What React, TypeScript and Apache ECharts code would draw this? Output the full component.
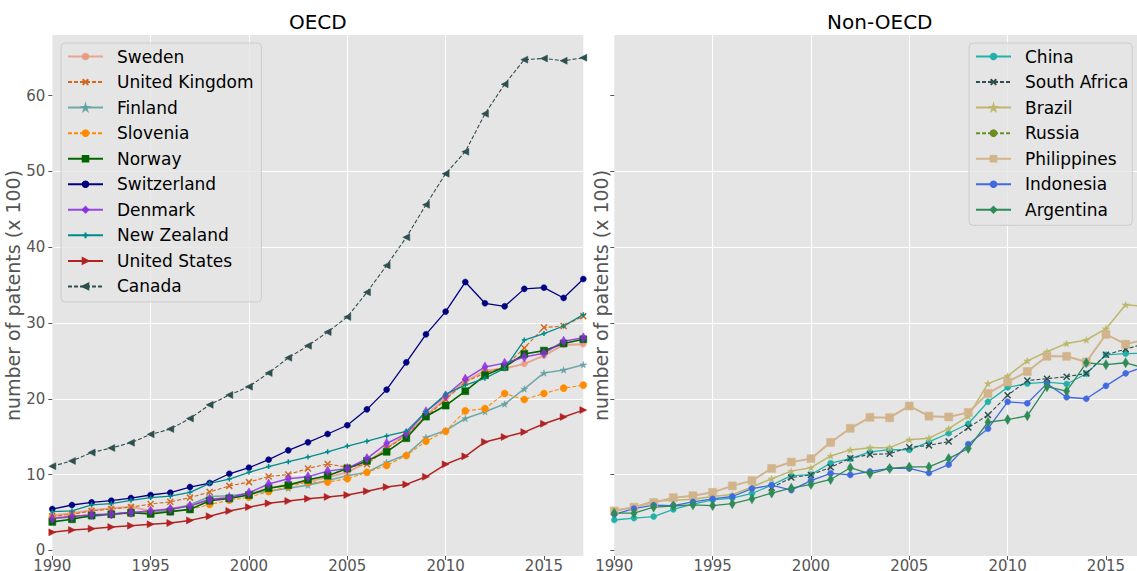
import React, { useEffect, useRef } from 'react';
import * as echarts from 'echarts';

// Years on the horizontal axis
const years = [
  1990, 1991, 1992, 1993, 1994, 1995, 1996, 1997, 1998, 1999,
  2000, 2001, 2002, 2003, 2004, 2005, 2006, 2007, 2008, 2009,
  2010, 2011, 2012, 2013, 2014, 2015, 2016, 2017,
];

const xTickValues = [1990, 1995, 2000, 2005, 2010, 2015];
const yTickValues = [0, 10, 20, 30, 40, 50, 60];

// OECD countries, number of patents (x 100)
const sweden = [4.6, 4.9, 5.3, 5.55, 5.75, 5.2, 5.5, 5.9, 6.7, 7.0, 7.4, 8.2, 8.7, 9.1, 9.6, 10.3, 11.6, 13.5, 15.3, 17.8, 20.1, 22.3, 23.7, 24.0, 24.6, 25.7, 27.1, 27.2];
const unitedKingdom = [4.5, 4.75, 5.2, 5.45, 5.7, 6.1, 6.4, 6.95, 7.7, 8.5, 9.0, 9.75, 10.0, 10.8, 11.4, 10.95, 11.35, 13.4, 15.2, 17.6, 19.9, 22.2, 23.4, 24.2, 26.7, 29.4, 29.6, 30.9];
const finland = [4.3, 4.35, 4.45, 4.8, 5.0, 5.0, 5.3, 6.0, 7.1, 7.2, 7.5, 7.8, 8.2, 8.6, 9.2, 9.85, 10.3, 11.6, 12.6, 14.9, 15.8, 17.4, 18.3, 19.3, 21.3, 23.4, 23.8, 24.5];
const slovenia = [4.3, 4.5, 4.7, 4.75, 4.85, 4.88, 5.1, 5.4, 6.05, 6.6, 7.0, 7.75, 8.4, 9.0, 9.0, 9.45, 10.3, 11.2, 12.5, 14.4, 15.7, 18.4, 18.7, 20.7, 19.9, 20.7, 21.4, 21.8];
const norway = [3.75, 4.1, 4.6, 4.75, 4.95, 4.8, 5.1, 5.4, 6.55, 6.85, 7.3, 8.2, 8.6, 9.3, 9.85, 10.8, 11.8, 13.0, 14.8, 17.65, 19.1, 21.0, 23.1, 24.2, 25.9, 26.35, 27.3, 27.85];
const switzerland = [5.45, 5.98, 6.33, 6.55, 6.9, 7.3, 7.6, 8.35, 8.88, 10.1, 10.9, 11.96, 13.2, 14.25, 15.35, 16.5, 18.6, 21.2, 24.8, 28.5, 31.5, 35.4, 32.6, 32.2, 34.5, 34.66, 33.3, 35.8];
const denmark = [4.2, 4.45, 4.7, 4.8, 5.0, 5.2, 5.45, 5.85, 6.7, 6.95, 7.6, 8.75, 9.45, 9.7, 10.45, 10.8, 12.1, 14.1, 15.4, 18.3, 20.4, 22.6, 24.2, 24.7, 25.5, 26.0, 27.6, 28.05];
const newZealand = [5.1, 5.2, 6.0, 6.15, 6.6, 6.95, 7.15, 7.65, 8.84, 9.4, 10.3, 11.05, 11.7, 12.3, 13.0, 13.76, 14.4, 15.1, 15.7, 18.3, 20.6, 21.8, 22.7, 24.0, 27.75, 28.6, 29.6, 31.1];
const unitedStates = [2.37, 2.68, 2.85, 3.07, 3.25, 3.43, 3.6, 3.95, 4.5, 5.2, 5.7, 6.2, 6.5, 6.8, 7.05, 7.3, 7.8, 8.35, 8.7, 9.7, 11.35, 12.4, 14.3, 14.95, 15.6, 16.7, 17.6, 18.5];
const canada = [11.1, 11.8, 12.9, 13.5, 14.2, 15.3, 16.0, 17.4, 19.2, 20.5, 21.6, 23.4, 25.4, 27.0, 28.8, 30.8, 34.05, 37.6, 41.3, 45.6, 49.7, 52.6, 57.6, 61.5, 64.75, 64.9, 64.6, 65.0];

// Non-OECD countries, number of patents (x 100)
const china = [4.0, 4.25, 4.45, 5.4, 6.1, 6.65, 6.9, 7.5, 8.6, 9.85, 10.0, 11.5, 12.1, 13.0, 13.3, 13.25, 14.3, 15.45, 16.7, 19.6, 21.5, 22.0, 22.2, 21.95, 23.3, 25.8, 25.95, 26.0];
const southAfrica = [null, null, null, null, null, null, null, null, 8.25, 9.6, 9.95, 10.95, 12.15, 12.65, 12.75, 13.6, 13.85, 14.35, 16.2, 17.85, 20.45, 22.4, 22.65, 22.9, 23.35, 25.8, 26.55, 27.3];
const brazil = [5.3, 5.7, 6.5, 6.6, 6.75, 7.1, 7.35, 8.35, 9.45, 10.45, 10.9, 12.45, 13.25, 13.55, 13.55, 14.6, 14.8, 16.05, 17.7, 22.0, 23.0, 25.0, 26.2, 27.3, 27.75, 29.25, 32.4, 32.2];
const russia: (number | null)[] = years.map(() => null);
const philippines = [5.2, 5.7, 6.3, 6.95, 7.2, 7.65, 8.5, 9.2, 10.8, 11.65, 12.1, 14.25, 16.1, 17.55, 17.5, 19.05, 17.7, 17.6, 18.2, 20.7, 22.2, 23.6, 25.6, 25.6, 24.85, 28.5, 27.2, 27.8];
const indonesia = [4.75, 5.5, 5.95, 5.9, 6.4, 6.8, 7.1, 8.15, 8.6, 7.95, 9.2, 10.15, 9.95, 10.4, 10.8, 10.8, 10.2, 11.3, 14.0, 16.05, 19.6, 19.4, 22.0, 20.2, 20.0, 21.7, 23.35, 24.3];
const argentina = [4.9, 4.9, 5.7, 5.85, 6.0, 5.9, 6.15, 6.8, 7.55, 8.2, 8.7, 9.35, 10.9, 10.1, 10.8, 11.0, 11.0, 12.1, 13.45, 16.9, 17.25, 17.75, 21.6, 21.0, 24.75, 24.5, 24.75, 24.0];

const FONT = 'DejaVu Sans';

const STAR = 'path://M50,0 L61,35 L98,35 L68,57 L79,91 L50,70 L21,91 L32,57 L2,35 L39,35 Z';
const CROSS = 'path://M0,0 L10,10 M10,0 L0,10';
const PLUS = 'path://M5,0 L5,10 M0,5 L10,5';

type Style = {
  name: string;
  values: (number | null)[];
  color: string;
  symbol: string;
  size: number | number[];
  dashed?: boolean;
  width?: number;
  opacity?: number;
  rotate?: number;
  stroke?: boolean;
};

const oecdStyles: Style[] = [
  { name: 'Sweden', values: sweden, color: '#E9967A', symbol: 'circle', size: 6, width: 2, opacity: 0.8 },
  { name: 'United Kingdom', values: unitedKingdom, color: '#D2691E', symbol: CROSS, size: 6, dashed: true, width: 1.1, stroke: true },
  { name: 'Finland', values: finland, color: '#5F9EA0', symbol: STAR, size: 7, width: 1.6, opacity: 0.85 },
  { name: 'Slovenia', values: slovenia, color: '#FF8C00', symbol: 'circle', size: 7, dashed: true, width: 1.1 },
  { name: 'Norway', values: norway, color: '#006400', symbol: 'rect', size: 7, width: 1.6 },
  { name: 'Switzerland', values: switzerland, color: '#000080', symbol: 'circle', size: 6, width: 1.3 },
  { name: 'Denmark', values: denmark, color: '#8A2BE2', symbol: 'diamond', size: [6, 10], width: 1.5, opacity: 0.85 },
  { name: 'New Zealand', values: newZealand, color: '#008B8B', symbol: PLUS, size: 5, width: 1.3, stroke: true },
  { name: 'United States', values: unitedStates, color: '#B22222', symbol: 'triangle', size: 7, width: 1.5, rotate: -90 },
  { name: 'Canada', values: canada, color: '#2F4F4F', symbol: 'triangle', size: 7, dashed: true, width: 1.1, rotate: 90 },
];

const nonOecdStyles: Style[] = [
  { name: 'China', values: china, color: '#20B2AA', symbol: 'circle', size: 6, width: 1.3 },
  { name: 'South Africa', values: southAfrica, color: '#2F4F4F', symbol: CROSS, size: 6, dashed: true, width: 1.1, stroke: true },
  { name: 'Brazil', values: brazil, color: '#BDB76B', symbol: STAR, size: 7, width: 1.5 },
  { name: 'Russia', values: russia, color: '#6B8E23', symbol: 'circle', size: 6, dashed: true, width: 1.1 },
  { name: 'Philippines', values: philippines, color: '#D2B48C', symbol: 'rect', size: 8, width: 2 },
  { name: 'Indonesia', values: indonesia, color: '#4169E1', symbol: 'circle', size: 6, width: 1.3 },
  { name: 'Argentina', values: argentina, color: '#2E8B57', symbol: 'diamond', size: [6, 10], width: 1.3 },
];

function toSeries(s: Style, panel: number) {
  return {
    type: 'line',
    name: s.name,
    xAxisIndex: panel,
    yAxisIndex: panel,
    data: years.map((y, i) => [y, s.values[i]]),
    connectNulls: false,
    symbol: s.symbol,
    symbolSize: s.size,
    symbolRotate: s.rotate ?? 0,
    symbolKeepAspect: true,
    showAllSymbol: true,
    lineStyle: {
      color: s.color,
      width: s.width ?? 1.5,
      type: s.dashed ? [4, 2] : 'solid',
      opacity: s.opacity ?? 1,
    },
    itemStyle: {
      color: s.color,
      borderColor: s.color,
      borderWidth: s.stroke ? 1.5 : 0.5,
      opacity: s.opacity ?? 1,
    },
    emphasis: { disabled: true },
  };
}

const GRID_TOP = 35;
const GRID_H = 521;
const GRID_W = 531;
const LEFT_X = 52.3;
const RIGHT_X = 614.3;

function xAxis(panel: number) {
  return {
    type: 'value',
    gridIndex: panel,
    min: 1990,
    max: 2017,
    interval: 5,
    axisLine: { show: false, onZero: false },
    axisTick: { show: true, length: 4, customValues: xTickValues, lineStyle: { color: '#555555' } },
    axisLabel: {
      customValues: xTickValues,
      formatter: (v: number) => String(v),
      color: '#555555',
      fontSize: 15,
      lineHeight: 15,
      fontFamily: FONT,
      margin: 2,
    },
    splitLine: { show: true, showMinLine: false, showMaxLine: false, lineStyle: { color: '#ffffff', width: 1.1 } },
  };
}

function yAxis(panel: number, labels: boolean, gap: number) {
  return {
    type: 'value',
    gridIndex: panel,
    min: -0.75,
    max: 68,
    name: 'number of patents (x 100)',
    nameLocation: 'middle',
    nameRotate: 90,
    nameGap: gap,
    nameTextStyle: { color: '#555555', fontSize: 19, fontFamily: FONT },
    axisLine: { show: false, onZero: false },
    axisTick: { show: true, length: 4, customValues: yTickValues, lineStyle: { color: '#555555' } },
    axisLabel: { show: labels, customValues: yTickValues, color: '#555555', fontSize: 15, fontFamily: FONT, margin: 7 },
    splitLine: { show: true, showMinLine: false, showMaxLine: false, lineStyle: { color: '#ffffff', width: 1.1 } },
  };
}

function legend(names: string[], left: number, rightPad: number) {
  return {
    data: names,
    orient: 'vertical',
    left,
    top: 43,
    padding: [5, rightPad, 7, 6],
    itemWidth: 35,
    itemHeight: 7,
    itemGap: 8.55,
    selectedMode: false,
    textStyle: { fontSize: 17, fontFamily: FONT, color: '#000000', lineHeight: 17, padding: [0, 0, 0, 9] },
    backgroundColor: 'rgba(229,229,229,0.8)',
    borderColor: '#cccccc',
    borderWidth: 1,
    borderRadius: 4,
  };
}

const gridBase = {
  top: GRID_TOP,
  width: GRID_W,
  height: GRID_H,
  show: true,
  backgroundColor: '#E5E5E5',
  borderWidth: 0,
  containLabel: false,
  outerBoundsMode: 'none',
};

const option = {
  animation: false,
  backgroundColor: '#ffffff',
  grid: [
    { ...gridBase, left: LEFT_X },
    { ...gridBase, left: RIGHT_X },
  ],
  xAxis: [xAxis(0), xAxis(1)],
  yAxis: [yAxis(0, true, 17), yAxis(1, false, 4)],
  legend: [
    legend(oecdStyles.map((s) => s.name), 61, 8),
    legend(nonOecdStyles.map((s) => s.name), 969, 4),
  ],
  graphic: [
    { type: 'text', x: LEFT_X + GRID_W / 2, y: 22, style: { text: 'OECD', font: `20px "${FONT}"`, fill: '#000000', textAlign: 'center', textVerticalAlign: 'middle' } },
    { type: 'text', x: RIGHT_X + GRID_W / 2, y: 22, style: { text: 'Non-OECD', font: `20px "${FONT}"`, fill: '#000000', textAlign: 'center', textVerticalAlign: 'middle' } },
  ],
  series: [
    ...oecdStyles.map((s) => toSeries(s, 0)),
    ...nonOecdStyles.map((s) => toSeries(s, 1)),
  ],
};

export default function App() {
  const ref = useRef<HTMLDivElement>(null);
  useEffect(() => {
    if (!ref.current) return;
    const chart = echarts.init(ref.current, null, { renderer: 'svg' });
    chart.setOption(option as any);
    return () => chart.dispose();
  }, []);
  return (
    <div
      ref={ref}
      style={{ position: 'fixed', left: 0, top: 0, width: 1137, height: 571, background: '#ffffff' }}
    />
  );
}
